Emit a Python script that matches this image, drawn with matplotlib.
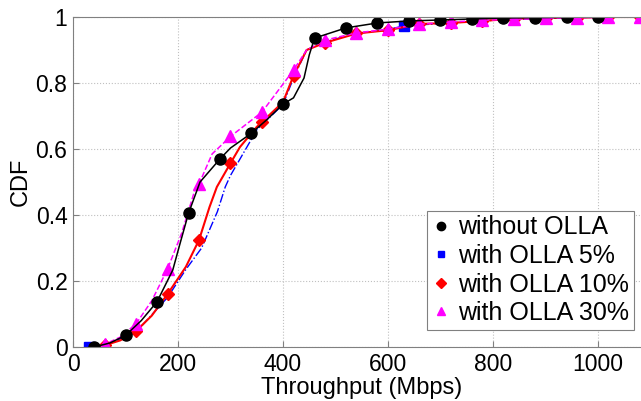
import numpy as np
import matplotlib
matplotlib.use('Agg')
import matplotlib.pyplot as plt
from matplotlib.lines import Line2D

plt.rcParams['font.family'] = ['Liberation Sans', 'DejaVu Sans']

# Throughput (Mbps) / CDF values
x_no = [40, 70, 100, 130, 160, 190, 205, 220, 242, 280, 300, 340, 370, 400, 420, 440, 450, 460,
        520, 580, 640, 700, 760, 820, 880, 940, 1000, 1080]
y_no = [0, 0.012, 0.035, 0.08, 0.137, 0.233, 0.32, 0.405, 0.5, 0.57, 0.603, 0.648, 0.69, 0.736,
        0.755, 0.815, 0.885, 0.936, 0.967, 0.982, 0.988, 0.991, 0.994, 0.997, 0.998, 0.999, 1.0, 1.0]
mk_no = [40, 100, 160, 220, 280, 340, 400, 460, 520, 580, 640, 700, 760, 820, 880, 940, 1000]

x_5 = [30, 60, 120, 180, 215, 245, 275, 290, 300, 340, 350, 400, 420, 445, 480, 540, 600, 630,
       700, 800, 900, 1000, 1080]
y_5 = [0, 0.005, 0.045, 0.15, 0.235, 0.3, 0.41, 0.485, 0.52, 0.63, 0.658, 0.735, 0.815, 0.9,
       0.925, 0.95, 0.962, 0.973, 0.98, 0.99, 0.996, 0.999, 1.0]
mk_5 = [30, 630]

x_10 = [40, 60, 90, 120, 150, 180, 215, 240, 260, 274, 300, 318, 350, 360, 400, 420, 445, 480,
        540, 600, 660, 720, 780, 840, 900, 960, 1020, 1080]
y_10 = [0, 0.005, 0.02, 0.048, 0.095, 0.16, 0.243, 0.324, 0.424, 0.485, 0.557, 0.606, 0.667,
        0.682, 0.742, 0.822, 0.9, 0.922, 0.95, 0.96, 0.979, 0.982, 0.988, 0.995, 0.997, 0.998, 1.0, 1.0]
mk_10 = [60, 120, 180, 240, 300, 360, 420, 480, 540, 600, 660, 720, 780, 840, 900, 960, 1020, 1080]

x_30 = [40, 60, 90, 120, 150, 180, 207, 232, 240, 265, 300, 360, 420, 445, 480, 540, 600, 660,
        720, 780, 840, 900, 960, 1020, 1080]
y_30 = [0, 0.008, 0.03, 0.07, 0.14, 0.236, 0.345, 0.475, 0.494, 0.585, 0.638, 0.712, 0.839, 0.9,
        0.93, 0.952, 0.963, 0.978, 0.985, 0.99, 0.993, 0.996, 0.998, 0.999, 1.0]
mk_30 = [60, 120, 180, 240, 300, 360, 420, 480, 540, 600, 660, 720, 780, 840, 900, 960, 1020, 1080]

labels = ['without OLLA', 'with OLLA 5%', 'with OLLA 10%', 'with OLLA 30%']


def idx(xs, marks):
    return [i for i, v in enumerate(xs) if v in marks]


fig = plt.figure(figsize=(6.41, 4.01), dpi=100)
ax = fig.add_axes([73 / 641, 54 / 401, 577.5 / 641, 330 / 401])

ax.plot(x_5, y_5, color='blue', ls='-.', lw=1, marker='s', ms=6.5,
        markevery=idx(x_5, mk_5))
ax.plot(x_10, y_10, color='red', ls='-', lw=1.5, marker='D', ms=6.5,
        markevery=idx(x_10, mk_10))
ax.plot(x_30, y_30, color='magenta', ls='--', lw=1.1, marker='^', ms=8,
        markevery=idx(x_30, mk_30))
ax.plot(x_no, y_no, color='black', ls='-', lw=1.1, marker='o', ms=8,
        markevery=idx(x_no, mk_no))

ax.set_xlim(0, 1100)
ax.set_ylim(0, 1)
ax.set_xticks([0, 200, 400, 600, 800, 1000])
ax.set_yticks([0, 0.2, 0.4, 0.6, 0.8, 1])
ax.set_yticklabels(['0', '0.2', '0.4', '0.6', '0.8', '1'])
ax.tick_params(direction='in', labelsize=16.5, color='#808080', length=4, pad=4)
ax.grid(True, ls=':', color='#c0c0c0', lw=0.8)
for s in ax.spines.values():
    s.set_color('#808080')
ax.set_xlabel('Throughput (Mbps)', fontsize=17, labelpad=1)
ax.set_ylabel('CDF', fontsize=17, labelpad=3)

handles = [
    Line2D([], [], ls='none', marker='o', color='black', ms=6),
    Line2D([], [], ls='none', marker='s', color='blue', ms=5),
    Line2D([], [], ls='none', marker='D', color='red', ms=5),
    Line2D([], [], ls='none', marker='^', color='magenta', ms=6),
]
leg = fig.legend(handles, labels, loc='lower left', bbox_to_anchor=(427 / 641, 71 / 401),
                 fontsize=18, fancybox=False, framealpha=1, edgecolor='#808080',
                 handlelength=0.7, handletextpad=0.35, labelspacing=0.18,
                 borderpad=0.2, borderaxespad=0)
leg.get_frame().set_linewidth(0.8)

fig.savefig('out.png', dpi=100)
